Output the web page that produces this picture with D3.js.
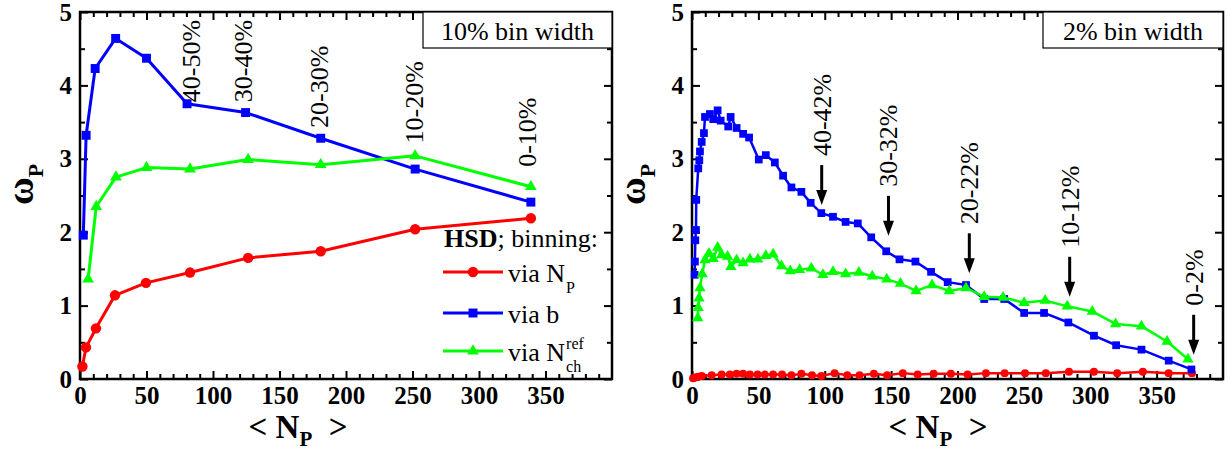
<!DOCTYPE html>
<html><head><meta charset="utf-8">
<script src="https://cdn.jsdelivr.net/npm/d3@7"></script>
<style>
@font-face{font-family:"TimesX";src:local("Liberation Serif"),local("LiberationSerif"),local("LiberationSerif-Regular");font-weight:normal;}
@font-face{font-family:"TimesX";src:local("Liberation Serif Bold"),local("LiberationSerif-Bold");font-weight:bold;}
body{margin:0;background:#fff}
svg text{font-family:"Liberation Serif","TimesX","Times New Roman","DejaVu Serif",serif;fill:#000}
</style>
</head><body>
<svg id="c" width="1231" height="453"></svg>
<script>
// ---------------- DATA ----------------
// Left panel: 10% bin width
const bin10_viaNp_N = [1.8, 4.5, 12, 26.3, 49.6, 82.7, 126.4, 181, 252, 339];
const bin10_viaNp_w = [0.17, 0.43, 0.69, 1.14, 1.31, 1.45, 1.65, 1.74, 2.04, 2.19];
const bin10_viaB_N  = [2.5, 4.6, 11.4, 26.8, 50, 80.5, 124.5, 181, 252, 339];
const bin10_viaB_w  = [1.96, 3.32, 4.23, 4.64, 4.37, 3.75, 3.63, 3.28, 2.86, 2.41];
const bin10_viaNch_N = [6.1, 12.2, 27, 50, 82.7, 126.4, 181, 252, 339];
const bin10_viaNch_w = [1.36, 2.35, 2.75, 2.88, 2.86, 2.99, 2.92, 3.04, 2.62];

// Right panel: 2% bin width
const bin2_viaNp_N = [0.8, 2.5, 4.5, 7.3, 14.8, 22.3, 28.5, 33.6, 38.5, 43.6, 49.4, 54.8, 61.1, 67.8, 74.9, 82.4, 90.4, 97.4, 107.4, 117.0, 126.2, 137.0, 147.0, 158.8, 170.0, 182.0, 195.0, 207.6, 221.4, 235.5, 250.9, 266.5, 284.0, 302.8, 320.3, 339.6, 359.1, 376.6];
const bin2_viaNp_w = [0.01, 0.02, 0.03, 0.04, 0.05, 0.06, 0.06, 0.07, 0.07, 0.06, 0.06, 0.06, 0.06, 0.06, 0.05, 0.07, 0.05, 0.04, 0.08, 0.05, 0.05, 0.07, 0.05, 0.08, 0.06, 0.07, 0.07, 0.06, 0.08, 0.08, 0.08, 0.08, 0.10, 0.10, 0.08, 0.10, 0.08, 0.08];
const bin2_viaB_N = [2.0, 2.2, 2.5, 3.0, 3.2, 4.7, 5.5, 6.0, 7.3, 9.0, 9.8, 13.5, 16.0, 19.3, 21.6, 27.3, 29.1, 33.6, 38.5, 43.0, 50.3, 55.6, 62.4, 68.6, 74.9, 82.4, 89.4, 97.4, 106.2, 115.7, 124.9, 135.0, 146.3, 156.3, 168.3, 180.1, 192.6, 206.4, 220.1, 235.2, 250.2, 265.2, 283.5, 302.8, 319.5, 338.6, 359.1, 376.2];
const bin2_viaB_w = [1.42, 1.60, 1.89, 2.03, 2.44, 2.87, 2.98, 3.10, 3.23, 3.35, 3.57, 3.61, 3.54, 3.66, 3.52, 3.44, 3.57, 3.42, 3.34, 3.29, 2.99, 3.05, 2.95, 2.77, 2.61, 2.55, 2.40, 2.26, 2.21, 2.14, 2.12, 1.93, 1.74, 1.63, 1.60, 1.46, 1.32, 1.28, 1.09, 1.09, 0.90, 0.90, 0.77, 0.59, 0.46, 0.40, 0.25, 0.13];
const bin2_viaNch_N = [4.3, 4.7, 5.3, 6.0, 7.7, 9.8, 12.8, 16.0, 19.3, 22.3, 26.8, 29.3, 33.6, 38.5, 43.6, 49.6, 55.6, 61.1, 67.4, 74.0, 81.1, 89.9, 98.6, 106.2, 115.7, 125.7, 135.8, 146.7, 157.0, 168.8, 180.8, 193.8, 206.4, 220.1, 234.4, 250.2, 266.0, 282.7, 301.5, 319.1, 338.6, 357.9, 373.6];
const bin2_viaNch_w = [0.83, 0.97, 1.10, 1.24, 1.43, 1.62, 1.71, 1.64, 1.79, 1.69, 1.67, 1.53, 1.62, 1.58, 1.63, 1.63, 1.68, 1.70, 1.54, 1.47, 1.49, 1.51, 1.42, 1.46, 1.43, 1.45, 1.40, 1.36, 1.30, 1.20, 1.28, 1.20, 1.24, 1.12, 1.11, 1.04, 1.07, 0.99, 0.92, 0.75, 0.72, 0.51, 0.27];

// tick labels
const xTickLabels = [0, 50, 100, 150, 200, 250, 300, 350];
const yTickLabels = [0, 1, 2, 3, 4, 5];

// centrality annotations
const leftLabels  = ["40-50%", "30-40%", "20-30%", "10-20%", "0-10%"];
const leftLabelN  = [83.5, 123, 180, 251, 336];
const leftLabelW  = [3.77, 3.77, 3.42, 3.21, 2.89];
const rightLabels = ["40-42%", "30-32%", "20-22%", "10-12%", "0-2%"];
const rightArrowN = [97.7, 148, 208.9, 284.5, 377.9];
const rightArrowW = [2.37, 1.95, 1.44, 1.12, 0.33];

// ---------------- DRAW ----------------
const FF = '"Liberation Serif","TimesX","Times New Roman","DejaVu Serif",serif';
const svg = d3.select("#c");
const RED = "#ff0000", BLUE = "#0000ff", GREEN = "#00ff00";

function sym(type, size){ return d3.symbol().type(type).size(size)(); }

function panel(cfg){
  const x = d3.scaleLinear().domain([0, 400]).range([cfg.x0, cfg.x1]);
  const y = d3.scaleLinear().domain([0, 5]).range([379, 12]);
  const g = svg.append("g").attr("font-family", FF);

  const majX = xTickLabels, minX = d3.range(10, 400, 10).filter(v => v % 50 !== 0);
  const majY = yTickLabels, minY = d3.range(0.5, 5, 1);

  function styleAxis(sel, lbl){
    sel.attr("font-family", FF);
    sel.select(".domain").remove();
    sel.selectAll(".tick line").attr("stroke", "#000").attr("stroke-width", 2);
    sel.selectAll(".tick text").attr("font-size", 25).attr("font-weight", "bold")
      .attr("font-family", FF);
    if(!lbl) sel.selectAll(".tick text").remove();
  }
  g.append("g").attr("transform", "translate(0,379)")
    .call(d3.axisBottom(x).tickValues(majX).tickSize(-8).tickPadding(7).tickFormat(d3.format("d")))
    .call(s => styleAxis(s, true));
  g.append("g").attr("transform", "translate(0,379)")
    .call(d3.axisBottom(x).tickValues(minX).tickSize(-5).tickFormat(""))
    .call(s => styleAxis(s, false));
  g.append("g").attr("transform", "translate(0,12)")
    .call(d3.axisTop(x).tickValues(majX).tickSize(-8).tickFormat(""))
    .call(s => styleAxis(s, false));
  g.append("g").attr("transform", "translate(0,12)")
    .call(d3.axisTop(x).tickValues(minX).tickSize(-5).tickFormat(""))
    .call(s => styleAxis(s, false));
  g.append("g").attr("transform", `translate(${cfg.x0},0)`)
    .call(d3.axisLeft(y).tickValues(majY).tickSize(-8).tickPadding(8).tickFormat(d3.format("d")))
    .call(s => styleAxis(s, true));
  g.append("g").attr("transform", `translate(${cfg.x0},0)`)
    .call(d3.axisLeft(y).tickValues(minY).tickSize(-5).tickFormat(""))
    .call(s => styleAxis(s, false));
  g.append("g").attr("transform", `translate(${cfg.x1},0)`)
    .call(d3.axisRight(y).tickValues(majY).tickSize(-8).tickFormat(""))
    .call(s => styleAxis(s, false));
  g.append("g").attr("transform", `translate(${cfg.x1},0)`)
    .call(d3.axisRight(y).tickValues(minY).tickSize(-5).tickFormat(""))
    .call(s => styleAxis(s, false));

  g.append("rect").attr("x", cfg.x0).attr("y", 12).attr("width", cfg.x1 - cfg.x0).attr("height", 367)
    .attr("fill", "none").attr("stroke", "#000").attr("stroke-width", 2.5);

  const line = d3.line().x(d => x(d[0])).y(d => y(d[1]));
  cfg.series.forEach(s => {
    const pts = s.N.map((n, i) => [n, s.w[i]]);
    g.append("path").datum(pts).attr("d", line).attr("fill", "none")
      .attr("stroke", s.color).attr("stroke-width", cfg.lw).attr("stroke-linejoin", "round");
    g.selectAll(null).data(pts).enter().append("path")
      .attr("transform", d => `translate(${x(d[0])},${y(d[1])})`)
      .attr("d", sym(s.type, s.size)).attr("fill", s.color);
  });

  g.append("rect").attr("x", cfg.boxX).attr("y", 12).attr("width", cfg.x1 - cfg.boxX).attr("height", 36)
    .attr("fill", "#fff").attr("stroke", "#000").attr("stroke-width", 1.2);
  g.append("text").attr("x", (cfg.boxX + cfg.x1) / 2).attr("y", 40).attr("text-anchor", "middle")
    .attr("font-size", 26).text(cfg.boxText);

  const yl = g.append("text").attr("transform", `translate(${cfg.x0 - 47},205) rotate(-90)`)
    .attr("font-weight", "bold").attr("font-size", 38);
  yl.append("tspan").text("ω");
  yl.append("tspan").attr("font-size", 22).attr("dy", 10).text("P");

  const xl = g.append("text").attr("x", cfg.xtitle).attr("y", 438).attr("text-anchor", "middle")
    .attr("font-weight", "bold").attr("font-size", 33).style("white-space", "pre");
  xl.append("tspan").text("< N");
  xl.append("tspan").attr("font-size", 21).attr("dy", 8).text("P");
  xl.append("tspan").attr("dy", -8).text("  >");

  return {g, x, y};
}

const L = panel({
  x0: 80, x1: 612, lw: 3, boxX: 423, boxText: "10% bin width", xtitle: 298,
  series: [
    {N: bin10_viaNp_N, w: bin10_viaNp_w, color: RED, type: d3.symbolCircle, size: 85},
    {N: bin10_viaB_N, w: bin10_viaB_w, color: BLUE, type: d3.symbolSquare, size: 80},
    {N: bin10_viaNch_N, w: bin10_viaNch_w, color: GREEN, type: d3.symbolTriangle, size: 60}
  ]
});
const R = panel({
  x0: 692, x1: 1223, lw: 2.5, boxX: 1043, boxText: "2% bin width", xtitle: 938,
  series: [
    {N: bin2_viaNp_N, w: bin2_viaNp_w, color: RED, type: d3.symbolCircle, size: 50},
    {N: bin2_viaB_N, w: bin2_viaB_w, color: BLUE, type: d3.symbolSquare, size: 60},
    {N: bin2_viaNch_N, w: bin2_viaNch_w, color: GREEN, type: d3.symbolTriangle, size: 55}
  ]
});

leftLabels.forEach((t, i) => {
  L.g.append("text")
    .attr("transform", `translate(${L.x(leftLabelN[i])},${L.y(leftLabelW[i])}) rotate(-90)`)
    .attr("dy", "0.34em").attr("font-size", 26).text(t);
});
rightLabels.forEach((t, i) => {
  const ax = R.x(rightArrowN[i]), tip = R.y(rightArrowW[i]), top = tip - 40;
  R.g.append("line").attr("x1", ax).attr("x2", ax).attr("y1", top).attr("y2", tip - 12)
    .attr("stroke", "#000").attr("stroke-width", 3);
  R.g.append("path").attr("d", `M${ax - 5.5},${tip - 15}L${ax + 5.5},${tip - 15}L${ax},${tip}Z`).attr("fill", "#000");
  R.g.append("text")
    .attr("transform", `translate(${ax},${top - 9}) rotate(-90)`)
    .attr("dy", "0.34em").attr("font-size", 26).text(t);
});

const lg = L.g.append("g");
const hsd = lg.append("text").attr("x", 444).attr("y", 247).attr("font-size", 26);
hsd.append("tspan").attr("font-weight", "bold").text("HSD");
hsd.append("tspan").text("; binning:");
const legRows = [
  {y: 272, color: RED, type: d3.symbolCircle, size: 85, main: "via N", sub: "P"},
  {y: 313, color: BLUE, type: d3.symbolSquare, size: 80, main: "via b"},
  {y: 351, color: GREEN, type: d3.symbolTriangle, size: 60, main: "via N", sub: "ch", sup: "ref"}
];
legRows.forEach(r => {
  lg.append("line").attr("x1", 443).attr("x2", 503).attr("y1", r.y).attr("y2", r.y)
    .attr("stroke", r.color).attr("stroke-width", 3);
  lg.append("path").attr("transform", `translate(473,${r.y})`).attr("d", sym(r.type, r.size)).attr("fill", r.color);
  const t = lg.append("text").attr("x", 508).attr("y", r.y + 10).attr("font-size", 26).text(r.main);
  const w = t.node().getComputedTextLength();
  if(r.sub) lg.append("text").attr("x", 508 + w + 1).attr("y", r.y + 21).attr("font-size", 16).text(r.sub);
  if(r.sup) lg.append("text").attr("x", 508 + w + 1).attr("y", r.y - 2).attr("font-size", 16).text(r.sup);
});
</script>
</body></html>
